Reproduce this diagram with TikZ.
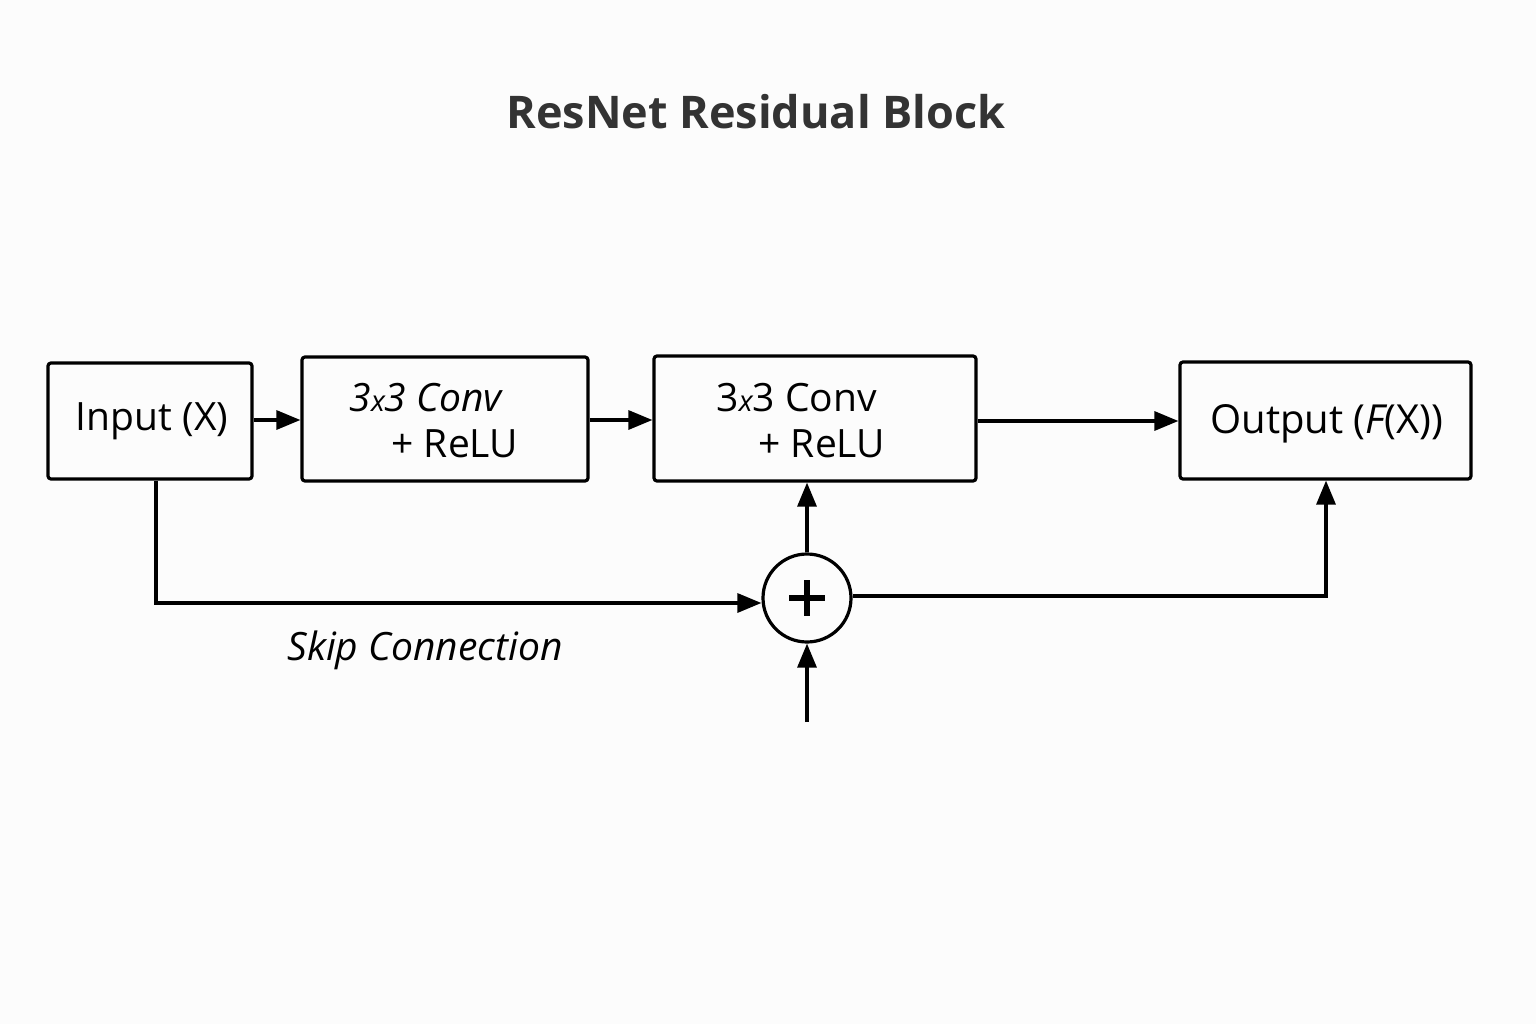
\documentclass[tikz,border=0pt]{standalone}
\usepackage{fontspec}
\setmainfont{Open Sans}
\usetikzlibrary{arrows.meta}
\definecolor{titlegray}{HTML}{333333}
\begin{document}
\begin{tikzpicture}[x=1pt,y=-1pt,
  box/.style={draw=black,line width=3.2pt,rounded corners=3pt,inner sep=0pt},
  conn/.style={line width=3.2pt,-{Triangle[length=24pt,width=19pt]}},
  lbl/.style={font=\fontsize{39}{46}\selectfont}]
\fill[white!99!black] (0,0) rectangle (1536,1024);
\useasboundingbox (0,0) rectangle (1536,1024);
\node[font=\fontsize{45}{54}\selectfont\bfseries,text=titlegray] (title) at (756,112) {ResNet Residual Block};
\node[box,minimum width=204pt,minimum height=116pt] (in) at (150,421) {};
\node[lbl] (intext) at (152,421) {Input (X)};
\node[box,minimum width=286pt,minimum height=124pt] (c1) at (445,419) {};
\node[lbl,anchor=west] (c1a) at (346,398) {\itshape 3{\fontsize{29}{34}\selectfont x}3 Conv};
\node[lbl,anchor=west] (c1b) at (388,444) {+ ReLU};
\node[box,minimum width=322pt,minimum height=125pt] (c2) at (815,418.5) {};
\node[lbl,anchor=west] (c2a) at (713,398) {3{\fontsize{29}{34}\selectfont\itshape x}3 Conv};
\node[lbl,anchor=west] (c2b) at (755,444) {+ ReLU};
\node[box,minimum width=291pt,minimum height=117pt] (out) at (1325.5,420.5) {};
\node[lbl,font=\fontsize{40}{46}\selectfont] (outtext) at (1327,424) {Output ({\itshape F}(X))};
\node[draw=black,line width=3.2pt,circle,minimum size=88pt,inner sep=0pt] (plus) at (807,598) {};
\draw[line width=6pt] (plus.center) ++(-18,0) -- ++(36,0);
\draw[line width=6pt] (plus.center) ++(0,-18) -- ++(0,36);
\coordinate (bot) at (807,722);
\coordinate (skipc) at (156,603);
\coordinate (outc) at (1326,596);
\draw[conn] (in.east |- 0,420) -- (c1.west |- 0,420);
\draw[conn] (c1.east |- 0,420) -- (c2.west |- 0,420);
\draw[conn] (c2.east |- 0,421) -- (out.west |- 0,421);
\draw[conn] (in.south -| skipc) -- (skipc) -- (plus.west |- skipc);
\draw[conn] (plus.north) -- (c2.south -| plus);
\draw[conn] (plus.east |- outc) -- (outc) -- (out.south -| outc);
\draw[conn] (bot) -- (plus.south);
\node[font=\fontsize{39}{46}\selectfont\itshape] (skiplbl) at (425,650) {Skip Connection};
\end{tikzpicture}
\end{document}
